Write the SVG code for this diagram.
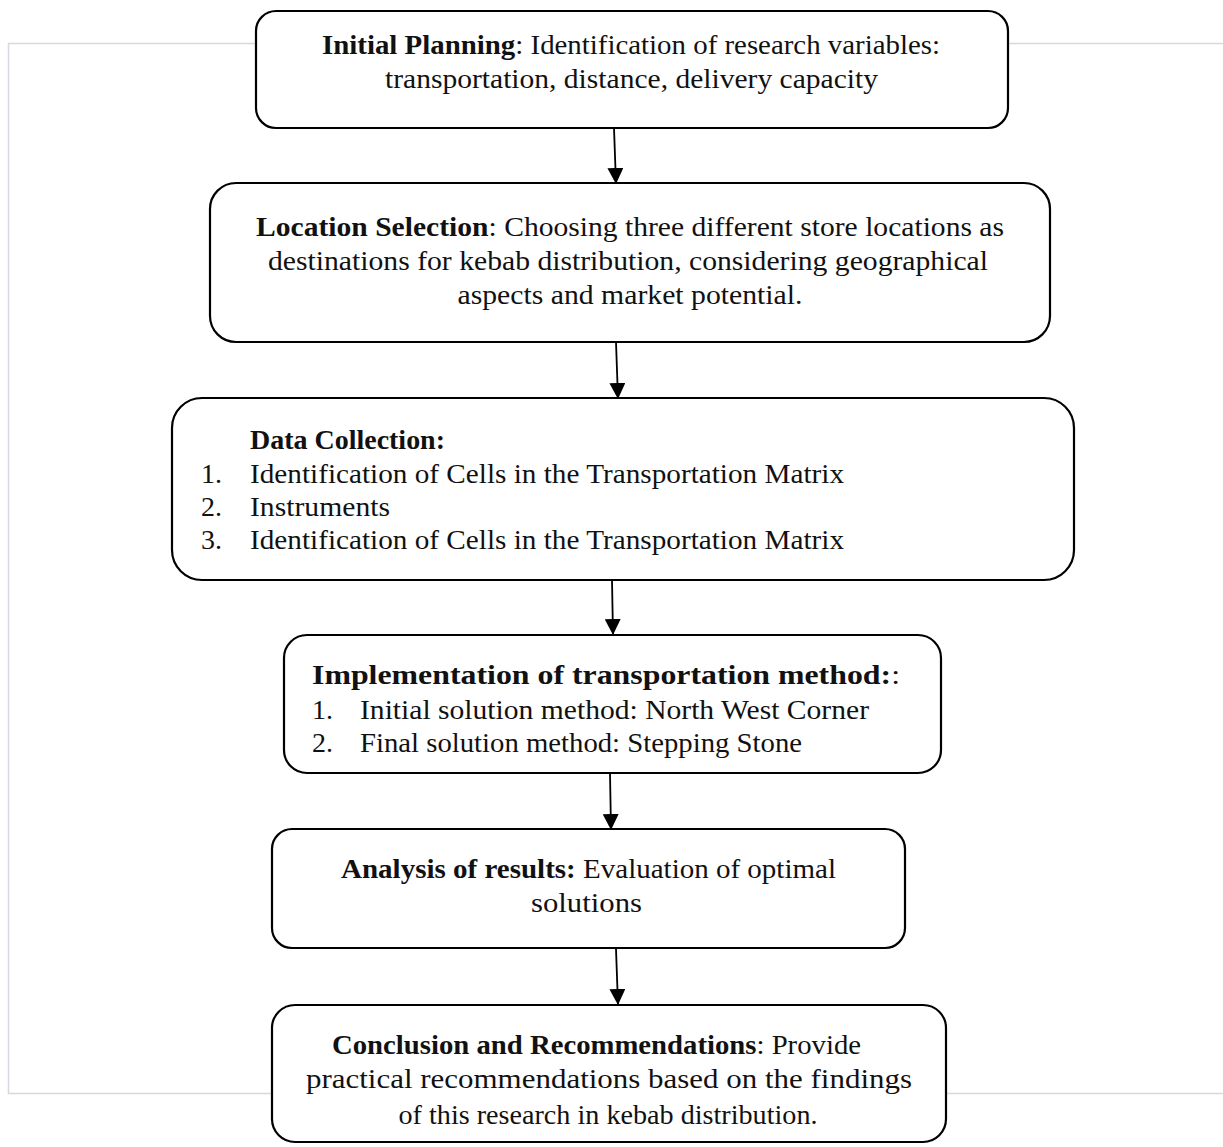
<svg xmlns="http://www.w3.org/2000/svg" width="1223" height="1147" viewBox="0 0 1223 1147">
<defs>
<style>
.frame{fill:none;stroke:#d8d8e0;stroke-width:1.5}
.box{fill:#fff;stroke:#000;stroke-width:2.2}
.t{font-family:"Liberation Serif","Times New Roman",serif;font-size:28px;fill:#111}
.b{font-weight:bold}
.c{text-anchor:middle}
.edge{stroke:#000;stroke-width:1.8;fill:none}
</style>
<marker id="ah" markerUnits="userSpaceOnUse" markerWidth="16" markerHeight="16" viewBox="0 0 16 16" refX="16" refY="8" orient="auto">
<path d="M0,0 L16,8 L0,16 Z" fill="#000"/>
</marker>
</defs>
<rect width="1223" height="1147" fill="#fff"/>
<path class="frame" d="M1223,43.5 H8.5 V1093.5 H1223"/>
<g id="connectors">
<line class="edge" x1="614" y1="128" x2="616" y2="184" marker-end="url(#ah)"/>
<line class="edge" x1="616" y1="342" x2="618" y2="399" marker-end="url(#ah)"/>
<line class="edge" x1="612" y1="580" x2="613" y2="635" marker-end="url(#ah)"/>
<line class="edge" x1="610" y1="773" x2="611" y2="830" marker-end="url(#ah)"/>
<line class="edge" x1="616" y1="949" x2="618" y2="1005" marker-end="url(#ah)"/>
</g>
<g id="node1">
<rect class="box" x="256" y="11" width="752" height="117" rx="20" ry="20"/>
<text class="t" x="322" y="54" textLength="618" lengthAdjust="spacingAndGlyphs"><tspan class="b">Initial Planning</tspan>: Identification of research variables:</text>
<text class="t" x="385" y="88" textLength="493" lengthAdjust="spacingAndGlyphs">transportation, distance, delivery capacity</text>
</g>
<g id="node2">
<rect class="box" x="210" y="183" width="840" height="159" rx="26" ry="26"/>
<text class="t" x="256" y="236" textLength="748" lengthAdjust="spacingAndGlyphs"><tspan class="b">Location Selection</tspan>: Choosing three different store locations as</text>
<text class="t" x="268" y="270" textLength="720" lengthAdjust="spacingAndGlyphs">destinations for kebab distribution, considering geographical</text>
<text class="t c" x="630" y="304" textLength="345" lengthAdjust="spacingAndGlyphs">aspects and market potential.</text>
</g>
<g id="node3">
<rect class="box" x="172" y="398" width="902" height="182" rx="30" ry="30"/>
<text class="t b" x="250" y="449" textLength="195" lengthAdjust="spacingAndGlyphs">Data Collection:</text>
<text class="t" x="201" y="483">1.</text>
<text class="t" x="250" y="483" textLength="594" lengthAdjust="spacingAndGlyphs">Identification of Cells in the Transportation Matrix</text>
<text class="t" x="201" y="516">2.</text>
<text class="t" x="250" y="516" textLength="140" lengthAdjust="spacingAndGlyphs">Instruments</text>
<text class="t" x="201" y="549">3.</text>
<text class="t" x="250" y="549" textLength="594" lengthAdjust="spacingAndGlyphs">Identification of Cells in the Transportation Matrix</text>
</g>
<g id="node4">
<rect class="box" x="284" y="635" width="657" height="138" rx="23" ry="23"/>
<text class="t" x="312" y="684" textLength="588" lengthAdjust="spacingAndGlyphs"><tspan class="b">Implementation of transportation method:</tspan>:</text>
<text class="t" x="312" y="719">1.</text>
<text class="t" x="360" y="719" textLength="509" lengthAdjust="spacingAndGlyphs">Initial solution method: North West Corner</text>
<text class="t" x="312" y="752">2.</text>
<text class="t" x="360" y="752" textLength="442" lengthAdjust="spacingAndGlyphs">Final solution method: Stepping Stone</text>
</g>
<g id="node5">
<rect class="box" x="272" y="829" width="633" height="119" rx="20" ry="20"/>
<text class="t c" x="588.5" y="878" textLength="495" lengthAdjust="spacingAndGlyphs"><tspan class="b">Analysis of results:</tspan> Evaluation of optimal</text>
<text class="t c" x="586.5" y="912" textLength="111" lengthAdjust="spacingAndGlyphs">solutions</text>
</g>
<g id="node6">
<rect class="box" x="272" y="1005" width="674" height="137" rx="23" ry="23"/>
<text class="t" x="332" y="1054" textLength="529" lengthAdjust="spacingAndGlyphs"><tspan class="b">Conclusion and Recommendations</tspan>: Provide</text>
<text class="t" x="306" y="1088" textLength="606" lengthAdjust="spacingAndGlyphs">practical recommendations based on the findings</text>
<text class="t c" x="608" y="1124" textLength="419" lengthAdjust="spacingAndGlyphs">of this research in kebab distribution.</text>
</g>
</svg>
